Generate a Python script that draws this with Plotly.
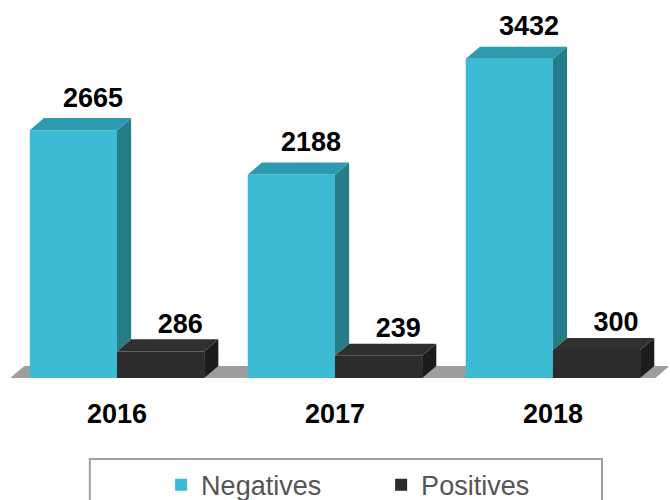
import plotly.graph_objects as go

years = ['2016', '2017', '2018']
negatives = [2665, 2188, 3432]
positives = [286, 239, 300]

# colours: front / top / side faces
neg_cols = ('#3dbbd5', '#2e9ab0', '#257d8c')
pos_cols = ('#2c2c2c', '#303030', '#1c1c1c')

bar_w = 0.4      # width of each bar in category units
dx = 0.065       # fake depth, x (category units)
dy = 130         # fake depth, y (data units)

xs = list(range(len(years)))
bold = dict(family='Arial, Liberation Sans', size=27, color='black', weight='bold')

fig = go.Figure()

# front faces are ordinary bars
fig.add_trace(go.Bar(x=xs, y=negatives, width=bar_w, offset=-bar_w, name='Negatives',
                     marker=dict(color=neg_cols[0], line=dict(width=0))))
fig.add_trace(go.Bar(x=xs, y=positives, width=bar_w, offset=0, name='Positives',
                     marker=dict(color=pos_cols[0], line=dict(width=0))))


def face(px, py, colour):
    fig.add_trace(go.Scatter(x=px + [px[0]], y=py + [py[0]], mode='lines', fill='toself',
                             fillcolor=colour, line=dict(width=0, color=colour),
                             hoverinfo='skip', showlegend=False))


# side and top faces, worked out from the values
for i, (n, p) in enumerate(zip(negatives, positives)):
    xl, xm, xr = i - bar_w, i, i + bar_w
    # negatives: side face only visible above the positives bar
    face([xm, xm, xm + dx, xm + dx], [p, n, n + dy, p + dy], neg_cols[2])
    face([xl, xm, xm + dx, xl + dx], [n, n, n + dy, n + dy], neg_cols[1])
    # positives
    face([xr, xr, xr + dx, xr + dx], [0, p, p + dy, dy], pos_cols[2])
    face([xm, xr, xr + dx, xm + dx], [p, p, p + dy, p + dy], pos_cols[1])

# value labels
lab_x = [i - bar_w / 2 + 0.09 for i in xs] + [i + bar_w / 2 + 0.09 for i in xs]
lab_y = [v + dy + 50 for v in negatives] + [v + dy for v in positives]
lab_t = [str(v) for v in negatives] + [str(v) for v in positives]
fig.add_trace(go.Scatter(x=lab_x, y=lab_y, text=lab_t, mode='text', textposition='top center',
                         textfont=bold, hoverinfo='skip', showlegend=False, cliponaxis=False))

# grey floor under the bars
fx0, fx1 = -0.49, 2.47
fig.add_shape(type='path', xref='x', yref='y', layer='below',
              path=f'M {fx0},0 L {fx1},0 L {fx1 + dx},{dy} L {fx0 + dx},{dy} Z',
              fillcolor='#9e9e9e', line=dict(width=0))

# legend frame
fig.add_shape(type='rect', xref='paper', yref='paper', x0=0.124, x1=0.9, y0=-0.218, y1=-0.36,
              line=dict(color='#a0a0a0', width=2), fillcolor='rgba(0,0,0,0)')

fig.update_layout(
    width=670, height=500,
    margin=dict(l=8, r=2, t=6, b=122, autoexpand=False),
    paper_bgcolor='white', plot_bgcolor='white',
    showlegend=True,
    legend=dict(orientation='h', x=0.232, xanchor='left', y=-0.222, yanchor='top',
                font=dict(family='Arial, Liberation Sans', size=27, color='#555555'),
                entrywidth=175, bgcolor='rgba(0,0,0,0)'),
    xaxis=dict(range=[-0.5, 2.528], tickvals=xs, ticktext=years, showgrid=False,
               zeroline=False, showline=False, ticks='', ticklabelstandoff=17,
               automargin=False, tickfont=bold),
    yaxis=dict(range=[0, 4000], visible=False, showgrid=False, zeroline=False,
               automargin=False),
    font=dict(family='Arial, Liberation Sans'),
)

# the page's default body margin would shift the whole figure by 8px
fig.write_html('out.html', config={'displayModeBar': False},
               post_script="document.body.style.margin='0';")
